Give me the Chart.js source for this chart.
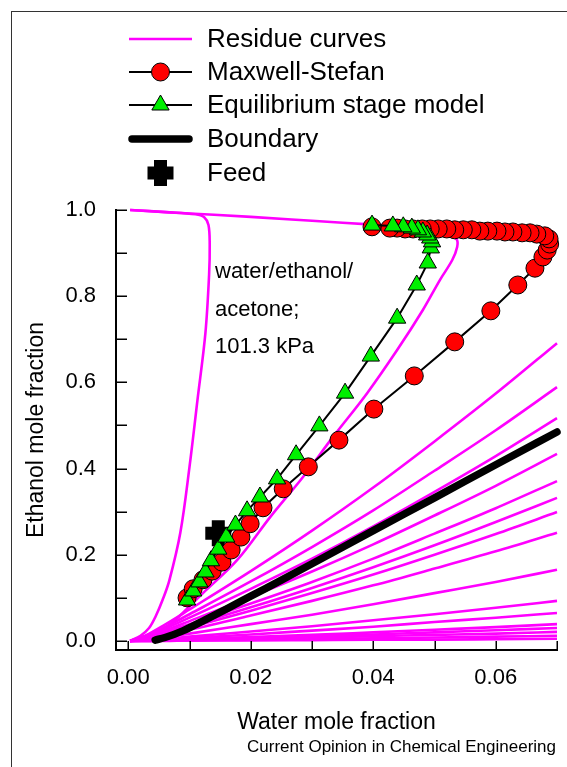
<!DOCTYPE html>
<html>
<head>
<meta charset="utf-8">
<script src="https://cdn.jsdelivr.net/npm/chart.js@4.4.1/dist/chart.umd.min.js"></script>
<style>
  html, body { margin: 0; padding: 0; background: #fff; }
  #wrap { position: relative; width: 567px; height: 767px; overflow: hidden; }
  #frame { position: absolute; left: 11px; top: 11px; width: 800px; height: 900px;
           border: 1px solid #333; box-sizing: border-box; }
  #c { position: absolute; left: 0; top: 0; }
</style>
</head>
<body>
<div id="wrap">
  <div id="frame"></div>
  <canvas id="c" width="567" height="767"></canvas>
</div>
<script>
// ---- axes ----
const xTickValues = [0, 0.01, 0.02, 0.03, 0.04, 0.05, 0.06, 0.07];
const xTickLabels = ['0.00', '', '0.02', '', '0.04', '', '0.06', ''];
const yTickValues = [0, 0.1, 0.2, 0.3, 0.4, 0.5, 0.6, 0.7, 0.8, 0.9, 1.0];
const yTickLabels = ['0.0', '', '0.2', '', '0.4', '', '0.6', '', '0.8', '', '1.0'];

const seriesLabels = ['Residue curves', 'Maxwell-Stefan', 'Equilibrium stage model', 'Boundary', 'Feed'];
const noteLines = ['water/ethanol/', 'acetone;', '101.3 kPa'];
const sourceText = 'Current Opinion in Chemical Engineering';

// ---- Maxwell-Stefan column profile ----
const msX = [0.0096, 0.0106, 0.0122, 0.0137, 0.0153, 0.0168, 0.0184, 0.0199, 0.0220, 0.0253,
             0.0294, 0.0344, 0.0401, 0.0467, 0.0533, 0.0592, 0.0636, 0.0664, 0.0677, 0.0684,
             0.0688, 0.0687, 0.0680, 0.0667, 0.0656, 0.0643, 0.0628, 0.0615, 0.0602, 0.0587,
             0.0574, 0.0561, 0.0547, 0.0533, 0.0520, 0.0506, 0.0493, 0.0480, 0.0465, 0.0452,
             0.0439, 0.0427, 0.0398];
const msY = [0.100, 0.121, 0.142, 0.162, 0.183, 0.211, 0.241, 0.272, 0.309, 0.353,
             0.404, 0.466, 0.538, 0.615, 0.694, 0.766, 0.826, 0.865, 0.891, 0.907,
             0.921, 0.933, 0.940, 0.944, 0.947, 0.947, 0.949, 0.949, 0.951, 0.951,
             0.951, 0.954, 0.954, 0.954, 0.956, 0.956, 0.956, 0.956, 0.956, 0.956,
             0.958, 0.958, 0.961];

// ---- equilibrium stage model profile ----
const esX = [0.0096, 0.0106, 0.0116, 0.0126, 0.0135, 0.0147, 0.0160, 0.0175, 0.0194, 0.0215,
             0.0243, 0.0274, 0.0312, 0.0354, 0.0396, 0.0439, 0.0471, 0.0489, 0.0494, 0.0496,
             0.0493, 0.0488, 0.0481, 0.0473, 0.0463, 0.0449, 0.0432, 0.0398];
const esY = [0.095, 0.116, 0.137, 0.160, 0.186, 0.213, 0.241, 0.269, 0.302, 0.334,
             0.376, 0.432, 0.499, 0.575, 0.661, 0.749, 0.826, 0.877, 0.912, 0.926,
             0.935, 0.942, 0.949, 0.954, 0.958, 0.961, 0.963, 0.965];

// ---- feed ----
const feedX = [0.0147];
const feedY = [0.250];

// ---- distillation boundary ----
const boundaryX = [0.0044, 0.0060, 0.0090, 0.0120, 0.0160, 0.0200, 0.0250, 0.0300, 0.0400, 0.0500, 0.0600, 0.0700];
const boundaryY = [0.002, 0.008, 0.024, 0.045, 0.074, 0.104, 0.141, 0.179, 0.256, 0.332, 0.409, 0.485];

// ---- residue curves ----
const topCurveX = [0.0003, 0.010, 0.020, 0.030, 0.040, 0.050, 0.060, 0.070];
const topCurveY = [1.000, 0.992, 0.984, 0.975, 0.966, 0.957, 0.946, 0.932];

const leftCurveX = [0.0003, 0.0020, 0.0034, 0.0045, 0.0056, 0.0067, 0.0085, 0.0100, 0.0113, 0.0126, 0.0132, 0.0133, 0.0131, 0.0124, 0.0110, 0.0060, 0.0003];
const leftCurveY = [0.000, 0.012, 0.030, 0.058, 0.095, 0.140, 0.251, 0.404, 0.559, 0.715, 0.850, 0.920, 0.965, 0.983, 0.990, 0.995, 1.000];

const innerCurveX = [0.0003, 0.0030, 0.0055, 0.0077, 0.0122, 0.0178, 0.0232, 0.0285, 0.0334, 0.0390, 0.0439, 0.0481, 0.0509, 0.0529, 0.0537, 0.0536, 0.0520, 0.0480];
const innerCurveY = [0.000, 0.008, 0.025, 0.049, 0.111, 0.188, 0.288, 0.380, 0.473, 0.575, 0.675, 0.768, 0.838, 0.884, 0.914, 0.932, 0.945, 0.952];

// fan of residue curves running out to the right-hand edge
const fanX = [0.0003, 0.003, 0.006, 0.010, 0.020, 0.030, 0.040, 0.050, 0.060, 0.070];
const fanY = [
  [0, 0.014, 0.038, 0.073, 0.162, 0.256, 0.356, 0.463, 0.574, 0.691],
  [0, 0.012, 0.032, 0.062, 0.138, 0.218, 0.303, 0.395, 0.489, 0.589],
  [0, 0.010, 0.028, 0.054, 0.121, 0.191, 0.266, 0.346, 0.429, 0.517],
  [0, 0.009, 0.024, 0.046, 0.102, 0.161, 0.224, 0.291, 0.360, 0.434],
  [0, 0.007, 0.020, 0.039, 0.087, 0.137, 0.191, 0.249, 0.308, 0.371],
  [0, 0.007, 0.018, 0.035, 0.078, 0.123, 0.171, 0.222, 0.276, 0.332],
  [0, 0.006, 0.016, 0.031, 0.070, 0.111, 0.154, 0.200, 0.248, 0.299],
  [0, 0.005, 0.014, 0.026, 0.059, 0.093, 0.129, 0.168, 0.208, 0.251],
  [0, 0.003, 0.009, 0.017, 0.039, 0.061, 0.085, 0.111, 0.137, 0.165],
  [0, 0.002, 0.005, 0.010, 0.022, 0.034, 0.048, 0.062, 0.077, 0.093],
  [0, 0.001, 0.004, 0.007, 0.015, 0.024, 0.033, 0.044, 0.054, 0.065],
  [0, 0.001, 0.002, 0.004, 0.009, 0.014, 0.020, 0.026, 0.032, 0.039],
  [0, 0.001, 0.002, 0.003, 0.007, 0.011, 0.015, 0.020, 0.025, 0.030],
  [0, 0.000, 0.001, 0.002, 0.005, 0.008, 0.011, 0.014, 0.017, 0.021],
  [0, 0.000, 0.001, 0.001, 0.003, 0.004, 0.006, 0.008, 0.010, 0.012],
  [0, 0.000, 0.000, 0.001, 0.001, 0.002, 0.003, 0.003, 0.004, 0.005]
];

// ---- styling ----
const MAGENTA = '#ff00ff';
const RED = '#ff0000';
const GREEN = '#00f000';
const FONT = '"Liberation Sans", Arial, Helvetica, sans-serif';

const pts = (xs, ys) => xs.map((x, i) => ({ x: x, y: ys[i] }));

// curves that fold back on themselves use a plain tension spline,
// curves that run left-to-right use the monotone spline
const residueLoop = {
  borderColor: MAGENTA, borderWidth: 2.6, pointRadius: 0, tension: 0.35,
  fill: false, clip: false
};
const residueFan = {
  borderColor: MAGENTA, borderWidth: 2.6, pointRadius: 0,
  cubicInterpolationMode: 'monotone', fill: false, clip: false
};

const datasets = [
  {
    label: seriesLabels[2], data: pts(esX, esY),
    borderColor: '#000', borderWidth: 2, tension: 0,
    pointStyle: 'triangle', pointRadius: 10, pointBackgroundColor: GREEN,
    pointBorderColor: '#000', pointBorderWidth: 1, clip: false
  },
  {
    label: seriesLabels[1], data: pts(msX, msY),
    borderColor: '#000', borderWidth: 2, tension: 0,
    pointStyle: 'circle', pointRadius: 9, pointBackgroundColor: RED,
    pointBorderColor: '#000', pointBorderWidth: 1, clip: false
  },
  {
    label: seriesLabels[4], data: pts(feedX, feedY), showLine: false,
    pointStyle: 'cross', pointRadius: 13, pointBorderWidth: 13,
    pointBorderColor: '#000', pointBackgroundColor: '#000', clip: false
  },
  {
    label: seriesLabels[3], data: pts(boundaryX, boundaryY),
    borderColor: '#000', borderWidth: 7.5, borderCapStyle: 'round', borderJoinStyle: 'round',
    pointRadius: 0, cubicInterpolationMode: 'monotone', clip: false
  },
  Object.assign({ label: seriesLabels[0], data: pts(topCurveX, topCurveY) }, residueFan),
  Object.assign({ label: seriesLabels[0], data: pts(leftCurveX, leftCurveY) }, residueLoop),
  Object.assign({ label: seriesLabels[0], data: pts(innerCurveX, innerCurveY) }, residueLoop)
];
fanY.forEach(ys => datasets.push(Object.assign({ label: seriesLabels[0], data: pts(fanX, ys) }, residueFan)));

// inward tick marks on both axes
const inwardTicks = {
  id: 'inwardTicks',
  afterDatasetsDraw(chart) {
    const { ctx, scales: { x, y }, chartArea } = chart;
    ctx.save();
    ctx.strokeStyle = '#000';
    ctx.lineWidth = 1.5;
    ctx.beginPath();
    xTickValues.forEach(v => {
      const px = Math.round(x.getPixelForValue(v)) + 0.25;
      ctx.moveTo(px, chartArea.bottom);
      ctx.lineTo(px, chartArea.bottom - 9);
    });
    yTickValues.forEach(v => {
      const py = Math.round(y.getPixelForValue(v)) + 0.25;
      ctx.moveTo(chartArea.left, py);
      ctx.lineTo(chartArea.left + 11, py);
    });
    ctx.stroke();
    ctx.restore();
  }
};

// key at the top, in-plot note and source line
const decorations = {
  id: 'decorations',
  afterDraw(chart) {
    const ctx = chart.ctx;
    const H = Chart.helpers;
    const x0 = 129, x1 = 192, xm = (x0 + x1) / 2, tx = 207;
    const rows = [39, 72, 105, 139, 173];
    ctx.save();

    const seg = (y, color, w, cap) => {
      ctx.beginPath();
      ctx.strokeStyle = color; ctx.lineWidth = w; ctx.lineCap = cap || 'butt';
      ctx.moveTo(x0, y); ctx.lineTo(x1, y); ctx.stroke();
    };
    seg(rows[0], MAGENTA, 2.6);
    seg(rows[1], '#000', 2);
    ctx.fillStyle = RED; ctx.strokeStyle = '#000'; ctx.lineWidth = 1;
    H.drawPoint(ctx, { pointStyle: 'circle', radius: 9, borderWidth: 1, rotation: 0 }, xm, rows[1]);
    seg(rows[2], '#000', 2);
    ctx.fillStyle = GREEN; ctx.strokeStyle = '#000'; ctx.lineWidth = 1;
    H.drawPoint(ctx, { pointStyle: 'triangle', radius: 10, borderWidth: 1, rotation: 0 }, xm, rows[2]);
    ctx.beginPath();
    ctx.strokeStyle = '#000'; ctx.lineWidth = 7.5; ctx.lineCap = 'round';
    ctx.moveTo(x0 + 3, rows[3]); ctx.lineTo(x1 - 3, rows[3]); ctx.stroke();
    ctx.lineCap = 'butt';
    ctx.strokeStyle = '#000'; ctx.lineWidth = 13;
    H.drawPoint(ctx, { pointStyle: 'cross', radius: 13, borderWidth: 13, rotation: 0 }, xm, rows[4]);

    ctx.fillStyle = '#000';
    ctx.textAlign = 'left';
    ctx.textBaseline = 'middle';
    ctx.font = '26px ' + FONT;
    seriesLabels.forEach((t, i) => ctx.fillText(t, tx, rows[i] + 1));

    ctx.font = '22px ' + FONT;
    const ny = [272, 310, 347];
    noteLines.forEach((t, i) => ctx.fillText(t, 215, ny[i]));

    ctx.font = '17px ' + FONT;
    ctx.textAlign = 'right';
    ctx.fillText(sourceText, 556, 747);
    ctx.restore();
  }
};

new Chart(document.getElementById('c'), {
  type: 'line',
  data: { datasets: datasets },
  options: {
    responsive: false,
    animation: false,
    devicePixelRatio: 1,
    layout: { autoPadding: false, padding: { left: 0, right: 10, top: 210, bottom: 0 } },
    plugins: { legend: { display: false }, tooltip: { enabled: false } },
    elements: { line: { fill: false } },
    scales: {
      x: {
        type: 'linear', position: 'bottom', min: -0.002, max: 0.07,
        afterBuildTicks: s => { s.ticks = xTickValues.map(v => ({ value: v })); },
        afterFit: s => { s.height = 117; s.paddingLeft = 0; s.paddingRight = 0; },
        grid: { display: false, drawTicks: false, tickLength: 0 },
        border: { display: true, color: '#000', width: 2 },
        ticks: {
          autoSkip: false, maxRotation: 0, padding: 15, color: '#000',
          font: { family: FONT, size: 22 },
          callback: (v, i) => xTickLabels[i]
        },
        title: {
          display: true, text: 'Water mole fraction', color: '#000',
          font: { family: FONT, size: 23 }, padding: { top: 0, bottom: 31 }
        }
      },
      y: {
        type: 'linear', position: 'left', min: -0.021, max: 1.0,
        afterBuildTicks: s => { s.ticks = yTickValues.map(v => ({ value: v })); },
        afterFit: s => { s.width = 116; s.paddingTop = 0; s.paddingBottom = 0; },
        grid: { display: false, drawTicks: false, tickLength: 0 },
        border: { display: true, color: '#000', width: 2 },
        ticks: {
          autoSkip: false, padding: 20, color: '#000',
          font: { family: FONT, size: 22 },
          callback: (v, i) => yTickLabels[i]
        },
        title: {
          display: true, text: 'Ethanol mole fraction', color: '#000',
          font: { family: FONT, size: 23 }, padding: { top: 23, bottom: 0 }
        }
      }
    }
  },
  plugins: [inwardTicks, decorations]
});
</script>
</body>
</html>
